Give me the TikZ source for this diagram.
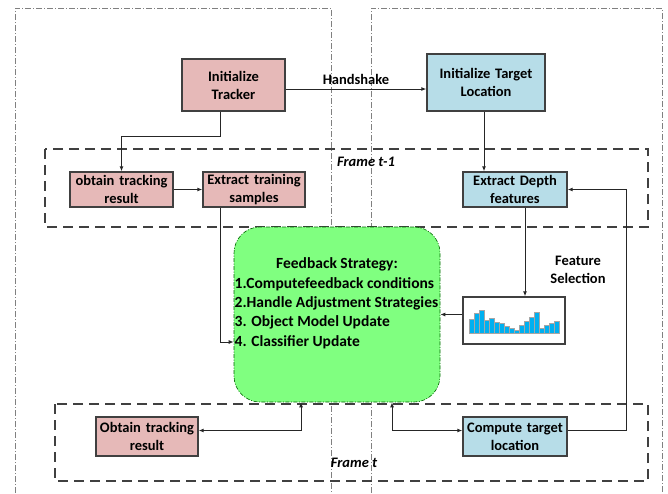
\documentclass[tikz,border=0pt]{standalone}
\usepackage{fontspec}
\setmainfont{Carlito}
\usetikzlibrary{arrows.meta}

\begin{document}
\begin{tikzpicture}[x=1pt, y=-1pt, font=\bfseries\fontsize{14.5}{18}\selectfont,
    >={Latex[length=5pt,width=4pt]}]
  \definecolor{lightpink}{RGB}{230,185,184}
  \definecolor{lightblue}{RGB}{183,221,232}
  \definecolor{lightgreen}{RGB}{128,255,128}
  \definecolor{bordergray}{RGB}{64,64,64}
  \definecolor{barblue}{RGB}{0,176,240}
  \tikzset{
    pinkbox/.style={draw=bordergray, fill=lightpink, line width=1.3pt,
      align=center, inner sep=1pt, text width=#1-4pt, minimum width=#1},
    bluebox/.style={draw=bordergray, fill=lightblue, line width=1.3pt,
      align=center, inner sep=1pt, text width=#1-4pt, minimum width=#1},
    framebox/.style={draw=bordergray, line width=1.1pt, dash pattern=on 10pt off 6pt},
    phasebox/.style={draw=gray, line width=0.6pt, dash pattern=on 6pt off 2pt on 1pt off 2pt},
    link/.style={draw=black!85, line width=1pt}
  }
  \useasboundingbox (0,0) rectangle (668,493);

  % dash-dot regions
  \draw[phasebox] (15,493) -- (15,8) -- (331,8) -- (331,493);
  \draw[phasebox] (371,493) -- (371,8) -- (662,8) -- (662,493);

  % frames
  \draw[framebox] (45,149) rectangle (648,227);
  \draw[framebox] (55,404) rectangle (648,481);
  \node at (366,162) {\itshape Frame t-1};
  \node at (354,463) {\itshape Frame t};

  % top row
  \node[pinkbox=103pt, minimum height=52pt] (tracker) at (233.5,85) {Initialize\\Tracker};
  \node[bluebox=118pt, minimum height=57pt] (target) at (486,82.5) {Initialize Target\\Location};

  % frame t-1
  \node[pinkbox=103pt, minimum height=35pt] (obtainprev) at (121.5,189.5) {obtain tracking\\result};
  \node[pinkbox=102pt, minimum height=35pt] (samples) at (254,189.5) {Extract training\\samples};
  \node[bluebox=104pt, minimum height=35pt] (depth) at (515,189.5) {Extract Depth\\features};

  % feedback strategy
  \node[draw=green!40!black, fill=lightgreen, line width=0.6pt, dash pattern=on 4pt off 1.5pt on 1pt off 1.5pt,
    rounded corners=26pt, minimum width=206pt, minimum height=175pt] (feedback) at (337,314.5) {};
  \node[font=\bfseries\fontsize{15.5}{19.3}\selectfont] (title) at (337,264) {Feedback Strategy:};
  \node[anchor=west, align=left, inner sep=0pt, font=\bfseries\fontsize{15.5}{19.3}\selectfont] (steps) at (234.5,313)
    {1.Computefeedback conditions\\2.Handle Adjustment Strategies\\3. Object Model Update\\4. Classifier Update};

  % histogram
  \node[draw=bordergray, fill=white, line width=1.3pt, minimum width=102pt, minimum height=47pt] (hist) at (514,320.5) {};
  \foreach \h [count=\i] in {14,20,23,13,15,11,10,7,5,3,8,12,16,21,5,8,10,12} {
    \fill[barblue] (464+\i*5,333) rectangle ++(4.6,-\h);
    \draw[gray!70, line width=0.2pt] (464+\i*5,333) rectangle ++(4.6,-\h);
  }
  \node[align=center] (featsel) at (578,270) {Feature\\Selection};

  % frame t
  \node[pinkbox=102pt, minimum height=39pt] (obtaincur) at (147,436.5) {Obtain tracking\\result};
  \node[bluebox=104pt, minimum height=39pt] (compute) at (515,436.5) {Compute target\\location};

  % connectors
  \draw[link, ->] ([yshift=-4pt]tracker.east) -- ([yshift=-4pt]tracker.east -| target.west)
    node[midway, above=1pt] {Handshake};
  \draw[link, ->] ([xshift=-13.5pt]tracker.south) -- ++(0,25) -| (obtainprev.north);
  \draw[link, ->] (obtainprev.east) -- (samples.west);
  \draw[link, ->] ([xshift=-2pt]target.south) -- ([xshift=-2pt]target.south |- depth.north);
  \draw[link, ->] ([xshift=-34pt]samples.south) |- ([yshift=-27.5pt]feedback.west);
  \draw[link, ->] ([xshift=10pt]depth.south) -- ([xshift=10pt]depth.south |- hist.north);
  \draw[link, ->] (hist.west |- feedback.east) -- (feedback.east);
  \draw[link, <->] ([xshift=-36pt]feedback.south) |- ([yshift=6pt]obtaincur.east);
  \draw[link, <->] ([xshift=55pt]feedback.south) |- ([yshift=6pt]compute.west);
  \draw[link, ->] ([yshift=6pt]compute.east) -- ++(59,0) |- (depth.east);
\end{tikzpicture}
\end{document}
